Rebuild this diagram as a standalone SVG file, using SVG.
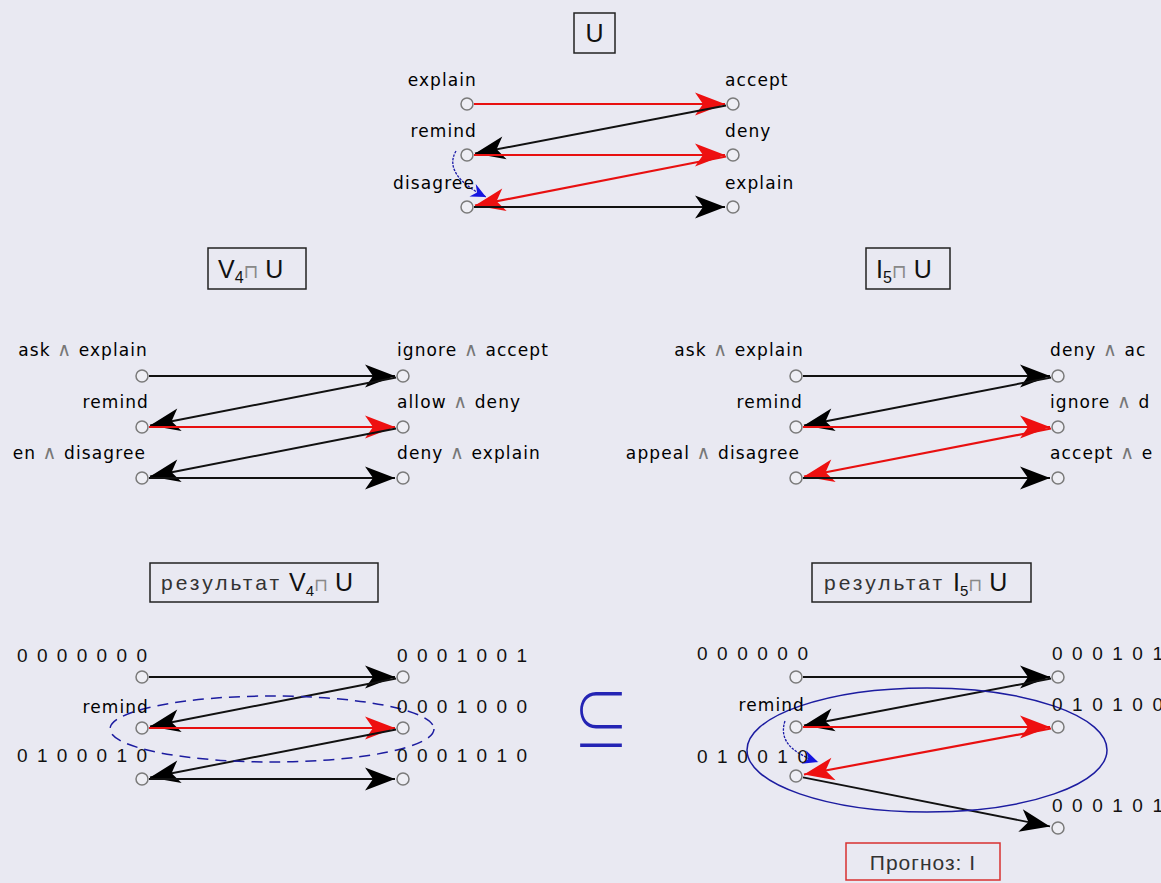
<svg xmlns="http://www.w3.org/2000/svg" width="1161" height="883" viewBox="0 0 1161 883">
<style>
.bg{fill:#e9e9f2}
.nd{fill:#eeeef4;stroke:#7a7a7a;stroke-width:1.5}
.k{stroke:#111;stroke-width:1.9;fill:none}
.r{stroke:#e81010;stroke-width:2.2;fill:none}
.bl{stroke:#1a1aa8;stroke-width:1.3;fill:none;stroke-dasharray:2.5 1.2}
.lb{font-family:"DejaVu Sans",sans-serif;font-size:17px;fill:#000;letter-spacing:1.1px}
.and{fill:#777;font-size:19px}
.num{font-family:"Liberation Sans",Arial,sans-serif;font-size:19px;fill:#111}
.hd{font-family:"Liberation Sans",Arial,sans-serif;font-size:25px;fill:#111}
.hd2{font-family:"Liberation Sans",Arial,sans-serif;font-size:21px;fill:#333}
.op{font-family:"DejaVu Sans",sans-serif;fill:#888}
.box{fill:none;stroke:#222;stroke-width:1.5}
.ell{fill:none;stroke:#1c1ca0;stroke-width:1.5}
</style>
<defs>
<marker id="ak" markerUnits="userSpaceOnUse" orient="auto" refX="0" refY="0" markerWidth="40" markerHeight="30" overflow="visible">
<path d="M0,0 L-30,-11.5 L-22,0 L-30,11.5 Z" fill="#000"/>
</marker>
<marker id="ar" markerUnits="userSpaceOnUse" orient="auto" refX="0" refY="0" markerWidth="40" markerHeight="30" overflow="visible">
<path d="M0,0 L-30,-11.5 L-22,0 L-30,11.5 Z" fill="#ee1010"/>
</marker>
<marker id="ab" markerUnits="userSpaceOnUse" orient="auto" refX="0" refY="0" markerWidth="20" markerHeight="20" overflow="visible">
<path d="M0,0 L-15,-7 L-10,0 L-15,7 Z" fill="#1515e0"/>
</marker>
</defs>
<rect class="bg" x="0" y="0" width="1161" height="883"/>

<!-- Headers -->
<g id="hdr-U">
<rect class="box" x="574" y="13" width="41" height="40"/>
<text class="hd" x="594.5" y="42" text-anchor="middle" font-size="26">U</text>
</g>
<g id="hdr-V4">
<rect class="box" x="208" y="248" width="98" height="41"/>
<text class="hd" x="218" y="278">V<tspan font-size="16" dy="5">4</tspan><tspan class="op" font-size="19" dy="-5">⊓</tspan> U</text>
</g>
<g id="hdr-I5">
<rect class="box" x="866" y="248" width="84" height="41"/>
<text class="hd" x="876" y="278">I<tspan font-size="16" dy="5">5</tspan><tspan class="op" font-size="19" dy="-5">⊓</tspan> U</text>
</g>
<g id="hdr-resV4">
<rect class="box" x="150" y="563" width="228" height="39"/>
<text class="hd2" x="161" y="590" textLength="118" lengthAdjust="spacing">результат</text>
<text class="hd" x="289" y="591" font-size="23">V<tspan font-size="15" dy="5">4</tspan><tspan class="op" font-size="18" dy="-5">⊓</tspan> U</text>
</g>
<g id="hdr-resI5">
<rect class="box" x="812" y="563" width="219" height="39"/>
<text class="hd2" x="824" y="590" textLength="118" lengthAdjust="spacing">результат</text>
<text class="hd" x="953" y="591" font-size="23">I<tspan font-size="15" dy="5">5</tspan><tspan class="op" font-size="18" dy="-5">⊓</tspan> U</text>
</g>
<g id="prognoz">
<rect x="846" y="843" width="154" height="37" fill="none" stroke="#d83030" stroke-width="1.5"/>
<text class="hd2" x="923" y="870" text-anchor="middle" letter-spacing="1">Прогноз: I</text>
</g>
<g id="subset">
<text transform="translate(601,746) scale(1.0,1.25)" x="0" y="0" text-anchor="middle" font-family="'Noto Sans CJK JP', 'DejaVu Sans', sans-serif" font-weight="200" font-size="56" fill="#2424b4">⊆</text>
</g>

<!-- Connectors -->
<g id="connectors">
<!-- U -->
<line class="r" x1="474" y1="104" x2="725" y2="104" marker-end="url(#ar)"/>
<line class="k" x1="726" y1="105.5" x2="475" y2="153.5" marker-end="url(#ak)"/>
<line class="r" x1="474" y1="155" x2="725" y2="155" marker-end="url(#ar)"/>
<line class="r" x1="726" y1="156.5" x2="475" y2="205.5" marker-end="url(#ar)"/>
<line class="k" x1="474" y1="207" x2="725" y2="207" marker-end="url(#ak)"/>
<path class="bl" d="M456,151 C446,168 460,184 486,197" marker-end="url(#ab)"/>
<!-- V4 -->
<line class="k" x1="149" y1="376" x2="395" y2="376" marker-end="url(#ak)"/>
<line class="k" x1="396" y1="377.5" x2="150" y2="425.5" marker-end="url(#ak)"/>
<line class="r" x1="149" y1="427" x2="395" y2="427" marker-end="url(#ar)"/>
<line class="k" x1="396" y1="428.5" x2="150" y2="476.5" marker-end="url(#ak)"/>
<line class="k" x1="149" y1="478" x2="395" y2="478" marker-end="url(#ak)"/>
<!-- I5 -->
<line class="k" x1="803" y1="376" x2="1050" y2="376" marker-end="url(#ak)"/>
<line class="k" x1="1051" y1="377.5" x2="804" y2="425.5" marker-end="url(#ak)"/>
<line class="r" x1="803" y1="427" x2="1050" y2="427" marker-end="url(#ar)"/>
<line class="r" x1="1051" y1="428.5" x2="804" y2="476.5" marker-end="url(#ar)"/>
<line class="k" x1="803" y1="478" x2="1050" y2="478" marker-end="url(#ak)"/>
<!-- result V4 -->
<line class="k" x1="149" y1="677" x2="395" y2="677" marker-end="url(#ak)"/>
<line class="k" x1="396" y1="678.5" x2="150" y2="726.5" marker-end="url(#ak)"/>
<line class="r" x1="149" y1="728" x2="395" y2="728" marker-end="url(#ar)"/>
<line class="k" x1="396" y1="729.5" x2="150" y2="777.5" marker-end="url(#ak)"/>
<line class="k" x1="149" y1="779" x2="395" y2="779" marker-end="url(#ak)"/>
<!-- result I5 -->
<line class="k" x1="803" y1="677" x2="1050" y2="677" marker-end="url(#ak)"/>
<line class="k" x1="1051" y1="678.5" x2="804" y2="725.5" marker-end="url(#ak)"/>
<line class="r" x1="803" y1="727" x2="1050" y2="727" marker-end="url(#ar)"/>
<line class="r" x1="1051" y1="728.5" x2="804" y2="774.5" marker-end="url(#ar)"/>
<line class="k" x1="803" y1="777.4" x2="1050" y2="826.4" marker-end="url(#ak)"/>
<path class="bl" d="M785,721 C778,742 795,754 818,762" marker-end="url(#ab)"/>
</g>

<!-- Ellipses -->
<ellipse class="ell" cx="272" cy="729" rx="162" ry="33" stroke-dasharray="11 7"/>
<ellipse class="ell" cx="927" cy="750" rx="180" ry="62"/>

<!-- Nodes: U -->
<g id="u-explain-l"><circle class="nd" cx="467" cy="104" r="6"/><text class="lb" x="477" y="86" text-anchor="end">explain</text></g>
<g id="u-remind"><circle class="nd" cx="467" cy="155" r="6"/><text class="lb" x="477" y="137" text-anchor="end">remind</text></g>
<g id="u-disagree"><circle class="nd" cx="467" cy="207" r="6"/><text class="lb" x="475" y="189" text-anchor="end">disagree</text></g>
<g id="u-accept"><circle class="nd" cx="733" cy="104" r="6"/><text class="lb" x="725" y="86">accept</text></g>
<g id="u-deny"><circle class="nd" cx="733" cy="155" r="6"/><text class="lb" x="725" y="137">deny</text></g>
<g id="u-explain-r"><circle class="nd" cx="733" cy="207" r="6"/><text class="lb" x="725" y="189">explain</text></g>

<!-- Nodes: V4 -->
<g id="v-ask"><circle class="nd" cx="142" cy="376" r="6"/><text class="lb" x="148" y="356" text-anchor="end">ask <tspan class="and">∧</tspan> explain</text></g>
<g id="v-remind"><circle class="nd" cx="142" cy="427" r="6"/><text class="lb" x="149" y="408" text-anchor="end">remind</text></g>
<g id="v-disagree"><circle class="nd" cx="142" cy="478" r="6"/><text class="lb" x="146" y="459" text-anchor="end">en <tspan class="and">∧</tspan> disagree</text></g>
<g id="v-accept"><circle class="nd" cx="403" cy="376" r="6"/><text class="lb" x="397" y="356">ignore <tspan class="and">∧</tspan> accept</text></g>
<g id="v-deny"><circle class="nd" cx="403" cy="427" r="6"/><text class="lb" x="397" y="408">allow <tspan class="and">∧</tspan> deny</text></g>
<g id="v-explain"><circle class="nd" cx="403" cy="478" r="6"/><text class="lb" x="397" y="459">deny <tspan class="and">∧</tspan> explain</text></g>

<!-- Nodes: I5 -->
<g id="i-ask"><circle class="nd" cx="796" cy="376" r="6"/><text class="lb" x="804" y="356" text-anchor="end">ask <tspan class="and">∧</tspan> explain</text></g>
<g id="i-remind"><circle class="nd" cx="796" cy="427" r="6"/><text class="lb" x="803" y="408" text-anchor="end">remind</text></g>
<g id="i-disagree"><circle class="nd" cx="796" cy="478" r="6"/><text class="lb" x="800" y="459" text-anchor="end">appeal <tspan class="and">∧</tspan> disagree</text></g>
<g id="i-accept"><circle class="nd" cx="1058" cy="376" r="6"/><text class="lb" x="1050" y="356">deny <tspan class="and">∧</tspan> ac</text></g>
<g id="i-deny"><circle class="nd" cx="1058" cy="427" r="6"/><text class="lb" x="1050" y="408">ignore <tspan class="and">∧</tspan> d</text></g>
<g id="i-explain"><circle class="nd" cx="1058" cy="478" r="6"/><text class="lb" x="1050" y="459">accept <tspan class="and">∧</tspan> e</text></g>

<!-- Nodes: result V4 -->
<g id="rv-1"><circle class="nd" cx="142" cy="677" r="6"/><text class="num" x="17" y="662" textLength="130" lengthAdjust="spacing">0 0 0 0 0 0 0</text></g>
<g id="rv-2"><circle class="nd" cx="142" cy="728" r="6"/><text class="lb" x="149" y="713" text-anchor="end" font-size="15">remind</text></g>
<g id="rv-3"><circle class="nd" cx="142" cy="779" r="6"/><text class="num" x="17" y="762" textLength="130" lengthAdjust="spacing">0 1 0 0 0 1 0</text></g>
<g id="rv-4"><circle class="nd" cx="403" cy="677" r="6"/><text class="num" x="397" y="662" textLength="130" lengthAdjust="spacing">0 0 0 1 0 0 1</text></g>
<g id="rv-5"><circle class="nd" cx="403" cy="728" r="6"/><text class="num" x="397" y="713" textLength="130" lengthAdjust="spacing">0 0 0 1 0 0 0</text></g>
<g id="rv-6"><circle class="nd" cx="403" cy="779" r="6"/><text class="num" x="397" y="762" textLength="130" lengthAdjust="spacing">0 0 0 1 0 1 0</text></g>

<!-- Nodes: result I5 -->
<g id="ri-1"><circle class="nd" cx="796" cy="677" r="6"/><text class="num" x="697" y="660" textLength="111" lengthAdjust="spacing">0 0 0 0 0 0</text></g>
<g id="ri-2"><circle class="nd" cx="796" cy="727" r="6"/><text class="lb" x="805" y="711" text-anchor="end" font-size="15">remind</text></g>
<g id="ri-3"><circle class="nd" cx="796" cy="776" r="6"/><text class="num" x="697" y="763" textLength="111" lengthAdjust="spacing">0 1 0 0 1 0</text></g>
<g id="ri-4"><circle class="nd" cx="1058" cy="677" r="6"/><text class="num" x="1052" y="660" textLength="111" lengthAdjust="spacing">0 0 0 1 0 1</text></g>
<g id="ri-5"><circle class="nd" cx="1058" cy="727" r="6"/><text class="num" x="1052" y="711" textLength="111" lengthAdjust="spacing">0 1 0 1 0 0</text></g>
<g id="ri-6"><circle class="nd" cx="1058" cy="828" r="6"/><text class="num" x="1052" y="812" textLength="111" lengthAdjust="spacing">0 0 0 1 0 1</text></g>
</svg>
